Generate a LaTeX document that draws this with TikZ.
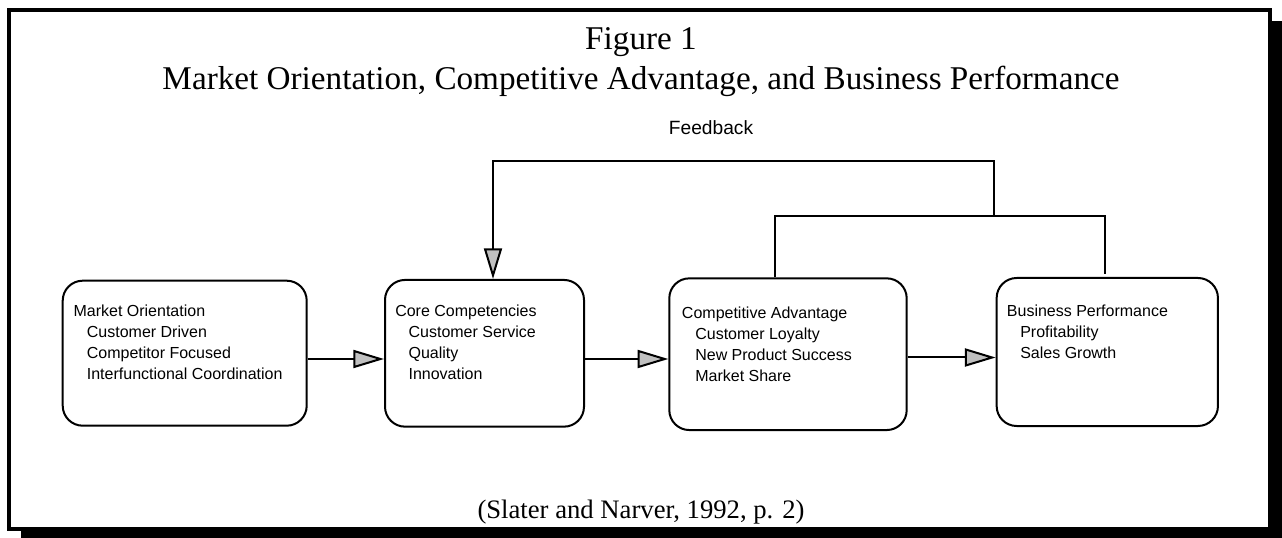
\documentclass[tikz,border=0pt]{standalone}
\usepackage{fontspec}
\setmainfont{Liberation Serif}
\setsansfont{Liberation Sans}
\usetikzlibrary{arrows.meta,calc}
\definecolor{tipgray}{HTML}{C0C0C0}
\newcommand{\sub}{\hspace*{10pt}}
\begin{document}
\begin{tikzpicture}[x=0.75pt,y=-0.75pt,
  stage/.style={draw,line width=1.5pt,rounded corners=15pt,inner sep=0pt},
  stagetext/.style={font=\sffamily\fontsize{12pt}{15.75pt}\selectfont,align=left,inner sep=0pt,anchor=north west},
  wire/.style={line width=1.5pt},
  flow/.style={wire,-{Triangle[length=23pt,width=13.5pt,fill=tipgray]}},
  heading/.style={font=\fontsize{24.9pt}{28pt}\selectfont,anchor=base,inner sep=0pt}]
\useasboundingbox (0,0) rectangle (1282,538);
% frame with drop shadow
\fill[black] (21,21) rectangle (1282,538);
\draw[line width=3pt,fill=white] (9,10) rectangle (1270,528.5);

% headings
\node[heading] (t1) at (641,50) {Figure 1};
\node[heading] (t2) at (641,90) {Market Orientation, Competitive Advantage, and Business Performance};
\node[heading,font=\fontsize{20pt}{24pt}\selectfont] (src) at (641,518) {(Slater and Narver, 1992, p. 2)};
\node[font=\sffamily\fontsize{14.4pt}{16pt}\selectfont,anchor=base,inner sep=0pt] (fb) at (711,135) {Feedback};

% stages
\node[stage,minimum width=244*0.75pt,minimum height=145*0.75pt] (mo) at (184.7,353.2) {};
\node[stage,minimum width=199*0.75pt,minimum height=146.7*0.75pt] (cc) at (484.5,353.3) {};
\node[stage,minimum width=237.4*0.75pt,minimum height=151.7*0.75pt] (ca) at (788,354.2) {};
\node[stage,minimum width=221.3*0.75pt,minimum height=148*0.75pt] (bp) at (1107.3,352) {};

\node[stagetext] (motx) at (73.3,305) {Market Orientation\\\sub Customer Driven\\\sub Competitor Focused\\\sub Interfunctional Coordination};
\node[stagetext] (cctx) at (395,305) {Core Competencies\\\sub Customer Service\\\sub Quality\\\sub Innovation};
\node[stagetext] (catx) at (681.7,306.7) {Competitive Advantage\\\sub Customer Loyalty\\\sub New Product Success\\\sub Market Share};
\node[stagetext] (bptx) at (1006.7,305) {Business Performance\\\sub Profitability\\\sub Sales Growth};

% forward links
\draw[flow] (mo.east |- 0,359) -- (cc.west |- 0,359);
\draw[flow] (cc.east |- 0,359) -- (ca.west |- 0,359);
\draw[flow] (ca.east |- 0,357.5) -- (bp.west |- 0,357.5);

% feedback loop
\coordinate (fbjoin) at (994,216);
\coordinate (fbtop) at (994,161);
\coordinate (fbleft) at (493,161);
\coordinate (bpstub) at (1105,274);
\draw[wire] (ca.north -| 775,0) -- (775,216) -- (1105,216) -- (bpstub);
\draw[flow] (fbjoin) -- (fbtop) -- (fbleft) -- (cc.north -| fbleft);
\end{tikzpicture}
\end{document}
